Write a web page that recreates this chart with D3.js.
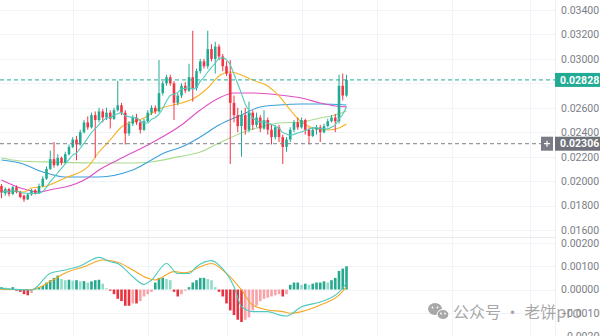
<!DOCTYPE html>
<html><head><meta charset="utf-8">
<script src="https://cdn.jsdelivr.net/npm/d3@7"></script>
<style>
body{margin:0;background:#fff;}
svg{display:block;font-family:Roboto,"Noto Sans",sans-serif;}
</style>
</head><body>
<svg id="chart" width="600" height="336"></svg>
<script>
// ---- candle data (one entry per bar) ----
const opens = [.01960,.01900,.01935,.01895,.01950,.01910,.01880,.01850,.01890,.01925,
.01900,.01960,.02020,.02100,.02180,.02130,.02190,.02150,.02220,.02280,
.02340,.02300,.02400,.02480,.02440,.02540,.02500,.02570,.02520,.02560,
.02510,.02580,.02620,.02560,.02390,.02470,.02520,.02480,.02420,.02490,
.02560,.02600,.02570,.02720,.02800,.02850,.02800,.02640,.02700,.02780,
.02740,.02850,.02760,.02900,.02980,.02940,.03080,.03000,.03100,.03020,
.02940,.02880,.02640,.02540,.02450,.02540,.02420,.02560,.02460,.02520,
.02430,.02500,.02420,.02360,.02440,.02360,.02280,.02340,.02420,.02480,
.02440,.02500,.02420,.02370,.02420,.02440,.02400,.02450,.02490,.02520,
.02490,.02780,.02700];
const highs = [.01975,.01950,.01945,.01960,.01965,.01920,.01890,.01900,.01935,.01935,
.01980,.02040,.02120,.02250,.02320,.02220,.02200,.02240,.02300,.02360,
.02370,.02420,.02500,.02530,.02560,.02570,.02600,.02590,.02600,.02580,
.02600,.02820,.02640,.02580,.02490,.02540,.02550,.02500,.02510,.02580,
.02620,.02620,.02990,.02820,.02870,.02870,.02820,.02720,.02800,.02810,
.02960,.03230,.02920,.03000,.03000,.03230,.03120,.03140,.03120,.03040,
.02980,.02990,.02700,.02600,.02580,.02600,.02650,.02580,.02560,.02540,
.02580,.02520,.02460,.02460,.02460,.02380,.02360,.02440,.02500,.02520,
.02520,.02510,.02440,.02440,.02460,.02460,.02470,.02510,.02540,.02550,
.02870,.02880,.02870];
const lows = [.01860,.01880,.01875,.01885,.01900,.01860,.01830,.01845,.01880,.01890,
.01895,.01950,.02010,.02090,.02110,.02120,.02130,.02140,.02210,.02270,
.02170,.02290,.02390,.02420,.02430,.02190,.02480,.02480,.02500,.02430,
.02500,.02570,.02540,.02300,.02370,.02450,.02460,.02390,.02410,.02480,
.02540,.02550,.02560,.02700,.02780,.02780,.02500,.02620,.02680,.02720,
.02730,.02650,.02740,.02880,.02920,.02920,.02980,.02880,.02990,.02900,
.02860,.02140,.02480,.02400,.02200,.02380,.02400,.02420,.02440,.02400,
.02420,.02380,.02300,.02340,.02320,.02140,.02240,.02320,.02400,.02420,
.02430,.02380,.02300,.02360,.02380,.02320,.02390,.02440,.02480,.02400,
.02470,.02660,.02690];
const closes = [.01905,.01935,.01895,.01950,.01910,.01870,.01850,.01890,.01925,.01900,
.01960,.02020,.02100,.02180,.02130,.02190,.02150,.02220,.02280,.02340,
.02300,.02400,.02480,.02440,.02540,.02500,.02570,.02520,.02560,.02510,
.02580,.02620,.02560,.02390,.02470,.02520,.02480,.02420,.02490,.02560,
.02600,.02570,.02720,.02800,.02850,.02800,.02640,.02700,.02780,.02740,
.02850,.02760,.02900,.02980,.02940,.03080,.03000,.03100,.03020,.02940,
.02880,.02640,.02540,.02450,.02540,.02420,.02560,.02460,.02520,.02430,
.02500,.02420,.02360,.02440,.02360,.02280,.02340,.02420,.02480,.02440,
.02500,.02420,.02370,.02420,.02440,.02400,.02450,.02490,.02520,.02490,
.02780,.02700,.02828];

// ---- longer moving averages: [bar index, value] ----
const maOrange = [[0,.01911],[2,.01919],[6,.01911],[8,.01944],[12,.01960],[17,.02026],[23,.02116],
[26,.02238],[29,.02337],[32,.02443],[38,.02517],[42,.02590],[48,.02639],[51,.02672],[55,.02762],
[58,.02860],[61,.02893],[64,.02868],[67,.02827],[71,.02778],[74,.02697],[77,.02582],[80,.02484],
[83,.02435],[87,.02418],[90,.02435],[92,.02468]];
const maMagenta = [[0,.02009],[5,.01944],[10,.01911],[14,.01936],[17,.01952],[23,.02026],[26,.02091],
[31,.02173],[40,.02312],[48,.02459],[53,.02582],[58,.02680],[62,.02721],[67,.02721],[74,.02705],
[80,.02680],[85,.02639],[89,.02615],[92,.02607]];
const maBlue = [[0,.02173],[5,.02148],[11,.02075],[17,.02034],[26,.02034],[35,.02091],[44,.02238],
[48,.02279],[53,.02361],[58,.02459],[64,.02541],[69,.02607],[74,.02623],[80,.02631],[85,.02631],[92,.02623]];
const maLime = [[0,.02189],[5,.02165],[11,.02157],[26,.02148],[35,.02148],[40,.02157],[47,.02198],
[53,.02238],[58,.02312],[64,.02394],[69,.02443],[74,.02476],[80,.02484],[85,.02517],[89,.02541],[92,.02574]];

// ---- MACD ----
const macdHist = [.00010,.00008,.00005,.00010,
-.00005,-.00010,-.00020,-.00025,-.00015,
.00005,.00010,.00015,
.00030,.00040,.00050,.00060,
.00045,.00040,.00042,.00038,.00040,.00035,.00036,.00030,.00035,.00040,.00042,.00025,
.00005,-.00005,
-.00020,-.00040,-.00050,-.00070,-.00070,-.00060,-.00060,-.00050,-.00030,-.00020,-.00010,
.00030,.00050,.00050,.00045,.00040,
-.00010,-.00030,-.00020,-.00005,
.00010,.00030,.00040,.00050,.00050,.00045,.00040,
.00010,
-.00010,-.00030,-.00060,-.00090,-.00110,-.00130,-.00140,-.00130,-.00120,-.00090,-.00070,-.00050,
-.00040,-.00035,-.00030,-.00025,-.00020,-.00030,-.00020,
.00020,.00030,.00030,.00020,.00025,.00020,.00025,.00030,.00030,.00035,.00030,.00040,.00050,.00080,.00090,.00100];
const macdDif = [[0,.00005],[8,-.00002],[13,.00070],[17,.00084],[21,.00101],[26,.00138],[29,.00119],
[31,.00112],[35,.00055],[38,.00022],[40,.00041],[44,.00112],[47,.00069],[50,.00069],[52,.00098],
[56,.00124],[58,.00105],[62,.00012],[64,-.00074],[67,-.00095],[71,-.00095],[74,-.00109],[76,-.00114],
[80,-.00074],[85,-.00054],[90,-.00011],[92,.00028]];
const macdDea = [[0,0],[8,0],[13,.00034],[17,.00071],[22,.00098],[27,.00127],[31,.00117],[35,.00084],
[39,.00048],[41,.00041],[46,.00077],[49,.00072],[53,.00098],[56,.00112],[60,.00069],[64,-.00002],
[67,-.00067],[71,-.00088],[75,-.00095],[77,-.00102],[80,-.00095],[85,-.00067],[90,-.00024],[92,.00011]];

// ---- axis ticks and marker lines ----
const priceTicks = [0.034,0.032,0.030,0.028,0.026,0.024,0.022,0.020,0.018,0.016];
const priceTickLabels = priceTicks.filter(v => v !== 0.028);
const macdTicks = [0.002,0.001,0,-0.001,-0.002];
const timeGrid = [19,39,60,80,100,120,141];
const lastPrice = 0.02828;
const markPrice = 0.02306;

const UP = "#22ab94", DOWN = "#f23645";
const svg = d3.select("#chart");
const W = 555;

const x = d3.scaleLinear().domain([0, 92]).range([1.5, 346.5]);
const yP = d3.scaleLinear().domain([0.016, 0.034]).range([230, 10]);
const yM = d3.scaleLinear().domain([-0.002, 0.002]).range([336, 243]);

const defs = svg.append("defs");
defs.append("clipPath").attr("id","cpMain").append("rect").attr("x",0).attr("y",0).attr("width",W).attr("height",237);
defs.append("clipPath").attr("id","cpMacd").append("rect").attr("x",0).attr("y",237).attr("width",W).attr("height",99);

// grid
const grid = svg.append("g").attr("stroke","#f0f3f7").attr("stroke-width",1);
grid.selectAll(".hp").data(priceTicks).join("line")
  .attr("x1",0).attr("x2",W).attr("y1",d=>Math.round(yP(d))+0.5).attr("y2",d=>Math.round(yP(d))+0.5);
grid.selectAll(".hm").data(macdTicks).join("line")
  .attr("x1",0).attr("x2",W).attr("y1",d=>Math.round(yM(d))+0.5).attr("y2",d=>Math.round(yM(d))+0.5);
grid.selectAll(".v").data(timeGrid).join("line")
  .attr("x1",d=>Math.round(x(d))+0.5).attr("x2",d=>Math.round(x(d))+0.5).attr("y1",0).attr("y2",336);
svg.append("line").attr("x1",0).attr("x2",W).attr("y1",237.5).attr("y2",237.5).attr("stroke","#e6e9ee");
svg.append("line").attr("x1",W+0.5).attr("x2",W+0.5).attr("y1",0).attr("y2",336).attr("stroke","#eef0f4");

// ---- main panel ----
const main = svg.append("g").attr("clip-path","url(#cpMain)");
const idx = d3.range(closes.length);
const line = d3.line().x(d=>x(d[0])).y(d=>yP(d[1])).curve(d3.curveMonotoneX);

function drawMA(data, color){
  main.append("path").attr("d", line(data)).attr("fill","none").attr("stroke",color).attr("stroke-width",1.1);
}
drawMA(maLime, "#a9dc8e");
drawMA(maBlue, "#3aa0dc");
drawMA(maMagenta, "#e04fc4");
drawMA(maOrange, "#f8b229");

// candles
const cg = main.append("g");
cg.selectAll("line.wick").data(idx).join("line")
  .attr("x1",i=>x(i)).attr("x2",i=>x(i))
  .attr("y1",i=>yP(highs[i])).attr("y2",i=>yP(lows[i]))
  .attr("stroke",i=>closes[i]>=opens[i]?UP:DOWN).attr("stroke-width",1);
cg.selectAll("rect.body").data(idx).join("rect")
  .attr("x",i=>x(i)-1.3).attr("width",2.6)
  .attr("y",i=>yP(Math.max(opens[i],closes[i])))
  .attr("height",i=>Math.max(1,Math.abs(yP(opens[i])-yP(closes[i]))))
  .attr("fill",i=>closes[i]>=opens[i]?UP:DOWN);

// short moving average of closes (7 bars)
const ma7 = idx.map(i=>{
  const s = closes.slice(Math.max(0,i-6), i+1);
  return [i, d3.mean(s)];
});
main.append("path").attr("d", d3.line().x(d=>x(d[0])).y(d=>yP(d[1])).curve(d3.curveMonotoneX)(ma7))
  .attr("fill","none").attr("stroke","#52cbbd").attr("stroke-width",1.1);

// price marker lines
svg.append("line").attr("x1",0).attr("x2",W).attr("y1",yP(lastPrice)).attr("y2",yP(lastPrice))
  .attr("stroke",UP).attr("stroke-dasharray","4,3").attr("stroke-width",1);
svg.append("line").attr("x1",0).attr("x2",541).attr("y1",yP(markPrice)).attr("y2",yP(markPrice))
  .attr("stroke","#7d8088").attr("stroke-dasharray","4,3").attr("stroke-width",1);

// ---- MACD panel ----
const mp = svg.append("g").attr("clip-path","url(#cpMacd)");
mp.selectAll("rect").data(idx).join("rect")
  .attr("x",i=>x(i)-1.3).attr("width",2.6)
  .attr("y",i=>yM(Math.max(0,macdHist[i])))
  .attr("height",i=>Math.abs(yM(macdHist[i])-yM(0)))
  .attr("fill",i=>{
    const v = macdHist[i], p = i>0?macdHist[i-1]:0;
    if (v>=0) return v>=p ? "#26a98f" : "#8fdcc8";
    return v<=p ? "#e8323f" : "#f7a3a8";
  });
const mline = d3.line().x(d=>x(d[0])).y(d=>yM(d[1])).curve(d3.curveMonotoneX);
mp.append("path").attr("d",mline(macdDea)).attr("fill","none").attr("stroke","#f5a623").attr("stroke-width",1.1);
mp.append("path").attr("d",mline(macdDif)).attr("fill","none").attr("stroke","#4fc9bb").attr("stroke-width",1.1);

// ---- axes ----
const fmt = d3.format(".5f");
const ax1 = svg.append("g").attr("transform","translate(561,0)")
  .call(d3.axisRight(yP).tickValues(priceTickLabels).tickSize(0).tickPadding(0).tickFormat(fmt));
const ax2 = svg.append("g").attr("transform","translate(561,0)")
  .call(d3.axisRight(yM).tickValues(macdTicks).tickSize(0).tickPadding(0).tickFormat(fmt));
[ax1,ax2].forEach(a=>{
  a.select(".domain").remove();
  a.selectAll("text").attr("fill","#7b7e87").style("font-size","10.5px").style("font-family","Roboto, sans-serif");
});

// last price tag
const tag = svg.append("g");
tag.append("rect").attr("x",555).attr("y",yP(lastPrice)-7).attr("width",45).attr("height",14).attr("fill",UP);
tag.append("text").attr("x",560).attr("y",yP(lastPrice)).attr("dy","0.35em")
  .attr("fill","#fff").style("font-size","10.5px").style("font-weight","bold").text(fmt(lastPrice));
// marker tag with plus button
const mt = svg.append("g");
mt.append("rect").attr("x",541).attr("y",yP(markPrice)-7).attr("width",12).attr("height",14).attr("fill","#7a7d85");
mt.append("path").attr("d",`M544,${yP(markPrice)}H550M547,${yP(markPrice)-3}V${yP(markPrice)+3}`)
  .attr("stroke","#fff").attr("stroke-width",1.2);
mt.append("rect").attr("x",555).attr("y",yP(markPrice)-7).attr("width",45).attr("height",14).attr("fill","#6f727a");
mt.append("text").attr("x",560).attr("y",yP(markPrice)).attr("dy","0.35em")
  .attr("fill","#fff").style("font-size","10.5px").style("font-weight","bold").text(fmt(markPrice));

// ---- watermark ----
const wm = svg.append("g").attr("opacity",0.75);
wm.append("ellipse").attr("cx",435).attr("cy",309).attr("rx",7).attr("ry",6).attr("fill","#8c8c8c");
wm.append("ellipse").attr("cx",443).attr("cy",314.5).attr("rx",5.8).attr("ry",5).attr("fill","#8c8c8c").attr("stroke","#fff").attr("stroke-width",1);
[[432.5,307.5],[437.5,307.5],[441,313.5],[445,313.5]].forEach(p=>
  wm.append("circle").attr("cx",p[0]).attr("cy",p[1]).attr("r",0.9).attr("fill","#fff"));
wm.append("text").attr("x",453).attr("y",318).attr("fill","#8a8a8a")
  .style("font-size","16px").style("font-family","'Noto Sans CJK SC', sans-serif")
  .text("公众号 · 老饼pro");
</script>
</body></html>
